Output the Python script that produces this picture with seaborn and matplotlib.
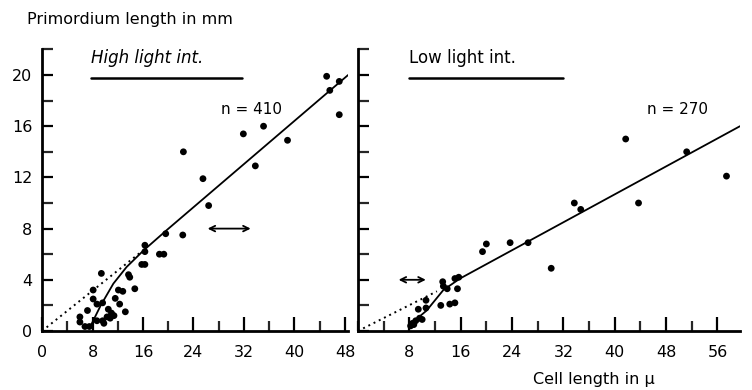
import matplotlib
matplotlib.use('Agg')
import matplotlib.pyplot as plt
from matplotlib.ticker import MultipleLocator
import seaborn as sns
sns.set_style(style='ticks')
plt.rcParams['font.family'] = ['DejaVu Sans']
plt.rcParams['text.color'] = 'black'

# high light intensity: cell length (mu) vs primordium length (mm)
hi_x = [22.4, 25.5, 31.9, 35.1, 33.8, 38.9, 45.1, 45.6, 47.1, 47.1, 26.4, 19.6,
        22.3, 18.6, 19.3, 16.3, 15.8, 16.3, 16.3, 13.7, 13.9, 14.7, 9.4, 8.1,
        12.1, 12.8, 11.6, 8.1, 8.7, 12.3, 9.6, 7.2, 13.2, 10.5, 11.0, 10.3,
        10.8, 9.6, 9.8, 6.0, 6.0, 6.8, 7.5, 8.7, 11.4]
hi_y = [14.0, 11.9, 15.4, 16.0, 12.9, 14.9, 19.9, 18.8, 19.5, 16.9, 9.8, 7.6,
        7.5, 6.0, 6.0, 6.7, 5.2, 5.2, 6.2, 4.4, 4.2, 3.3, 4.5, 3.2,
        3.2, 3.1, 2.55, 2.5, 2.1, 2.1, 2.2, 1.6, 1.5, 1.7, 1.4, 1.1,
        1.0, 0.8, 0.6, 1.1, 0.7, 0.35, 0.35, 0.8, 1.2]
hi_curve_x = [7.6, 9.3, 11.3, 13.4, 16.1, 19.8, 48.5]
hi_curve_y = [0.3, 2.0, 3.7, 5.0, 6.3, 7.9, 20.0]
hi_dot_x = [0, 15.5]
hi_dot_y = [0, 6.1]
hi_arrow = (25.8, 33.5, 8.0)

# low light intensity
lo_x = [41.7, 51.2, 57.4, 33.7, 34.7, 43.7, 19.4, 20.0, 23.7, 26.5, 30.1,
        15.1, 15.7, 15.5, 13.2, 13.3, 13.9, 12.9, 14.3, 15.1, 10.6, 10.6,
        9.4, 8.5, 9.0, 9.6, 10.0, 8.2, 8.7]
lo_y = [15.0, 14.0, 12.1, 10.0, 9.5, 10.0, 6.2, 6.8, 6.9, 6.9, 4.9,
        4.1, 4.2, 3.3, 3.85, 3.5, 3.3, 2.0, 2.1, 2.2, 2.4, 1.8,
        1.7, 0.6, 0.8, 1.0, 0.9, 0.4, 0.5]
lo_curve_x = [8.1, 10.7, 13.3, 15.9, 59.5]
lo_curve_y = [0.5, 1.6, 3.2, 4.1, 16.0]
lo_dot_x = [0, 12.3]
lo_dot_y = [0, 3.1]
lo_arrow = (5.9, 11.0, 4.0)

fig = plt.figure(figsize=(7.52, 3.9), dpi=100)
ax1 = fig.add_axes([0.0559, 0.1513, 0.407, 0.722])
ax2 = fig.add_axes([0.476, 0.1513, 0.508, 0.722])

panels = [
    (ax1, hi_x, hi_y, hi_curve_x, hi_curve_y, hi_dot_x, hi_dot_y, hi_arrow,
     48.5, 'High light int.', 'italic', (7.7, 31.7), 'n = 410', 28.3),
    (ax2, lo_x, lo_y, lo_curve_x, lo_curve_y, lo_dot_x, lo_dot_y, lo_arrow,
     59.5, 'Low light int.', 'normal', (8.0, 32.0), 'n = 270', 45.0),
]

for (ax, x, y, cx, cy, dx, dy, arr, xmax, title, style, ul, ntext, nx) in panels:
    sns.scatterplot(x=x, y=y, ax=ax, color='black', s=24, edgecolor='none')
    sns.lineplot(x=cx, y=cy, ax=ax, color='black', lw=1.3, sort=False,
                 estimator=None)
    sns.lineplot(x=dx, y=dy, ax=ax, color='black', lw=1.4, ls=(0, (1, 2)),
                 sort=False, estimator=None)
    ax.annotate('', xy=(arr[0], arr[2]), xytext=(arr[1], arr[2]),
                arrowprops=dict(arrowstyle='<->', color='black', lw=1.3))
    ax.text(ul[0], 20.6, title, fontsize=12, style=style, ha='left',
            va='bottom', color='black')
    ax.plot(ul, [19.75, 19.75], color='black', lw=1.8)
    ax.text(nx, 17.3, ntext, fontsize=11, ha='left', va='center',
            color='black')

    ax.set_xlim(0, xmax)
    ax.set_ylim(0, 22)
    sns.despine(ax=ax)
    for s in ['left', 'bottom']:
        ax.spines[s].set_linewidth(2.0)
        ax.spines[s].set_color('black')
    ax.xaxis.set_major_locator(MultipleLocator(8))
    ax.xaxis.set_minor_locator(MultipleLocator(4))
    ax.yaxis.set_major_locator(MultipleLocator(4))
    ax.yaxis.set_minor_locator(MultipleLocator(2))
    ax.tick_params(which='major', direction='in', length=10, width=1.6,
                   labelsize=11.5, colors='black')
    ax.tick_params(which='minor', direction='in', length=7, width=1.6)
    ax.tick_params(axis='y', which='both', length=8, pad=7)
    ax.tick_params(axis='x', which='major', pad=10)
    ax.set_xlabel('')
    ax.set_ylabel('')
    ax.set_facecolor('white')

ax1.set_xticks([0, 8, 16, 24, 32, 40, 48])
ax2.set_xticks([8, 16, 24, 32, 40, 48, 56])
ax2.set_yticklabels([])

fig.text(0.036, 0.951, 'Primordium length in mm', fontsize=11.5, ha='left',
         va='center', color='black')
fig.text(0.79, 0.026, 'Cell length in \u03bc', fontsize=11.5, ha='center',
         va='center', color='black')

fig.savefig('out.png', dpi=100, facecolor='white')
